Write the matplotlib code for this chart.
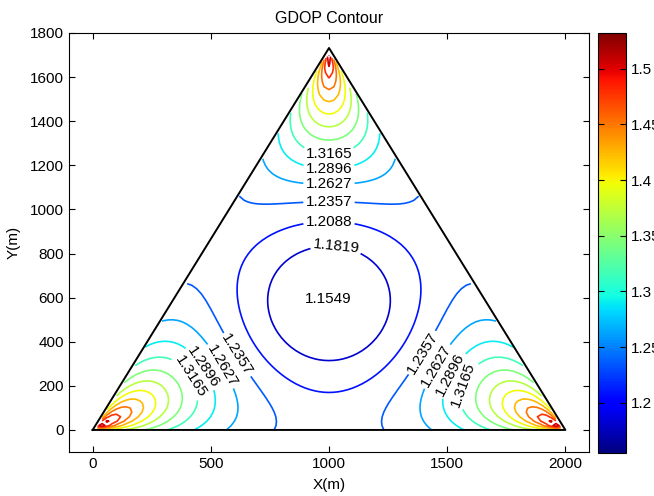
import numpy as np
import matplotlib
matplotlib.use('Agg')
import matplotlib.pyplot as plt
from matplotlib import cm, colors

plt.rcParams['font.family'] = ['Liberation Sans', 'DejaVu Sans']
font = {'size': 11}
plt.rc('font', **font)

# anchor positions (m)
anchor_x = [0, 2000, 1000]
anchor_y = [0, 0, 1732]

# contour levels
levels = [1.1549, 1.1819, 1.2088, 1.2357, 1.2627, 1.2896, 1.3165, 1.3435,
          1.3704, 1.3973, 1.4243, 1.4512, 1.4781, 1.5051, 1.5320]

# labels placed by hand
label_pos = [(1000, 590), (1030, 835), (1000, 950), (1000, 1034), (1000, 1120),
             (1000, 1188), (1000, 1260),
             (610, 340), (538, 286), (441, 263), (399, 236),
             (1396, 349), (1460, 286), (1519, 249), (1574, 204)]

cbar_ticks = [1.2, 1.25, 1.3, 1.35, 1.4, 1.45, 1.5]

step = 20
xg = np.arange(0, 2000 + 1, step)
yg = np.arange(0, 1732 + 1, step)
X, Y = np.meshgrid(xg, yg)

# gdop from the three ranges
h11 = np.zeros_like(X, dtype=float)
h22 = np.zeros_like(X, dtype=float)
h12 = np.zeros_like(X, dtype=float)
with np.errstate(divide='ignore', invalid='ignore'):
    for ax_, ay_ in zip(anchor_x, anchor_y):
        dx = X - ax_
        dy = Y - ay_
        r = np.sqrt(dx**2 + dy**2)
        ux = dx / r
        uy = dy / r
        h11 += ux * ux
        h22 += uy * uy
        h12 += ux * uy
    det = h11 * h22 - h12**2
    G = np.sqrt((h11 + h22) / det)

# points outside the triangle are dropped
inside = (Y <= np.sqrt(3) * X + 1e-6) & (Y <= np.sqrt(3) * (2000 - X) + 1e-6)
G[~inside] = np.nan

fig = plt.figure(figsize=(6.54, 4.96), dpi=100)
ax = fig.add_axes([69/654, 1 - 452/496, 520/654, 419/496])
norm = colors.Normalize(vmin=levels[0], vmax=levels[-1])
cs = ax.contour(X, Y, G, levels=levels, cmap='jet', norm=norm, linewidths=1.2)
ax.clabel(cs, levels[:7], manual=label_pos, inline=True, fmt='%.4f', fontsize=11, colors='k')

tx = anchor_x + [anchor_x[0]]
ty = anchor_y + [anchor_y[0]]
ax.plot(tx, ty, 'k-', lw=1.4)

ax.set_xlim(-100, 2100)
ax.set_ylim(-100, 1800)
ax.set_xticks([0, 500, 1000, 1500, 2000])
ax.set_yticks(np.arange(0, 1801, 200))
ax.tick_params(direction='in', top=True, right=True, length=4)
ax.set_xlabel('X(m)', labelpad=5)
ax.set_ylabel('Y(m)', labelpad=7)
ax.set_title('GDOP Contour', fontsize=11.5, pad=7)

cax = fig.add_axes([598/654, 1 - 453/496, 28/654, 420/496])
sm = cm.ScalarMappable(norm=norm, cmap='jet')
cb = fig.colorbar(sm, cax=cax, ticks=cbar_ticks)
cb.ax.set_yticklabels(['1.2', '1.25', '1.3', '1.35', '1.4', '1.45', '1.5'])
cb.ax.tick_params(direction='in', left=True, right=True, length=4)

plt.savefig('out.png', format='png')
